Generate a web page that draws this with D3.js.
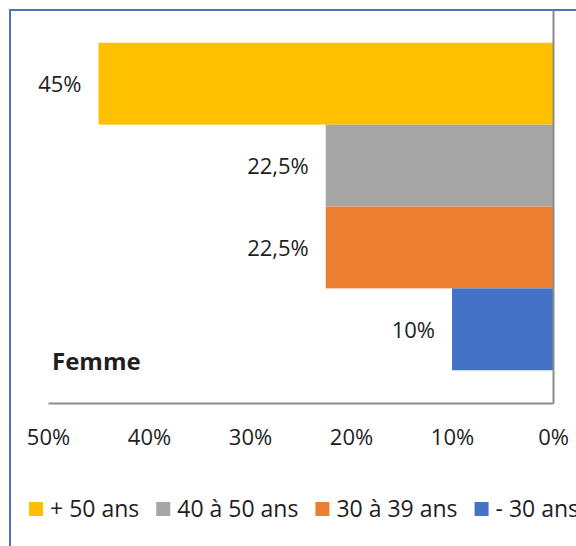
<!DOCTYPE html>
<html>
<head>
<meta charset="utf-8">
<script src="https://cdn.jsdelivr.net/npm/d3@7"></script>
<style>
  body { margin: 0; background: #fff; }
  #chart { width: 576px; height: 546px; }
  text { font-family: "Open Sans", "Noto Sans", sans-serif; fill: #1e1e1e; }
</style>
</head>
<body>
<div id="chart"></div>
<script>
// Age groups (top to bottom) and their share
const ageGroups = ["+ 50 ans", "40 à 50 ans", "30 à 39 ans", "- 30 ans"];
const shares = [0.45, 0.225, 0.225, 0.10];
const groupColors = ["#ffc000", "#a5a5a5", "#ed7d31", "#4472c4"];
const tickValues = [0.5, 0.4, 0.3, 0.2, 0.1, 0];
const groupLabel = "Femme";

const fr = d3.formatLocale({ decimal: ",", thousands: " ", grouping: [3], currency: ["", " €"], percent: "%" });
const pct = fr.format(".1~%");

const width = 576, height = 546;
const plot = { left: 48, right: 553, top: 10, bottom: 403 };

const svg = d3.select("#chart").append("svg")
  .attr("width", width)
  .attr("height", height);

svg.append("rect").attr("width", width).attr("height", height).attr("fill", "#fff");

// outer frame (only top and left visible)
svg.append("path")
  .attr("d", `M10,${height} L10,10 L${width},10`)
  .attr("fill", "none")
  .attr("stroke", "#4a72c2")
  .attr("stroke-width", 2);

// scales
const x = d3.scaleLinear()
  .domain([0.5, 0])
  .range([plot.left, plot.right]);

const y = d3.scaleBand()
  .domain(ageGroups)
  .range([plot.top, plot.bottom])
  .paddingInner(0)
  .paddingOuter(0.4);

const data = ageGroups.map((g, i) => ({ group: g, value: shares[i], color: groupColors[i] }));

// bars
svg.selectAll(".bar")
  .data(data)
  .enter().append("rect")
  .attr("class", "bar")
  .attr("x", d => x(d.value))
  .attr("y", d => y(d.group))
  .attr("width", d => x(0) - x(d.value))
  .attr("height", y.bandwidth())
  .attr("fill", d => d.color);

// value labels
svg.selectAll(".label")
  .data(data)
  .enter().append("text")
  .attr("class", "label")
  .attr("x", d => x(d.value) - 17)
  .attr("y", d => y(d.group) + y.bandwidth() / 2 + 1)
  .attr("dy", "0.35em")
  .attr("text-anchor", "end")
  .style("font-size", "22px")
  .text(d => pct(d.value));

// value axis
const xAxis = d3.axisBottom(x)
  .tickValues(tickValues)
  .tickFormat(d => fr.format(".0%")(d))
  .tickSize(0)
  .tickPadding(26);

const gx = svg.append("g")
  .attr("class", "x-axis")
  .attr("transform", `translate(0,${plot.bottom})`)
  .call(xAxis);
gx.select(".domain").attr("stroke", "#8c8c8c").attr("stroke-width", 2);
gx.selectAll("text")
  .style("font-size", "22px")
  .style("font-family", "'Open Sans', sans-serif")
  .attr("fill", "#1e1e1e");

// category axis at 0
const yAxis = d3.axisRight(y).tickSize(0).tickFormat("").tickSizeOuter(0);
const gy = svg.append("g")
  .attr("class", "y-axis")
  .attr("transform", `translate(${x(0)},0)`)
  .call(yAxis);
gy.select(".domain").attr("stroke", "#8c8c8c").attr("stroke-width", 2);

// group label
svg.append("text")
  .attr("x", 52)
  .attr("y", 362)
  .attr("dy", "0.35em")
  .style("font-size", "24px")
  .style("font-weight", "bold")
  .text(groupLabel);

// legend
const legend = svg.append("g").attr("class", "legend");
let lx = 29;
data.forEach(d => {
  legend.append("rect")
    .attr("x", lx)
    .attr("y", 502)
    .attr("width", 14)
    .attr("height", 14)
    .attr("fill", d.color);
  const t = legend.append("text")
    .attr("x", lx + 21)
    .attr("y", 509)
    .attr("dy", "0.35em")
    .style("font-size", "23px")
    .text(d.group);
  lx += 21 + t.node().getComputedTextLength() + 17;
});
</script>
</body>
</html>
